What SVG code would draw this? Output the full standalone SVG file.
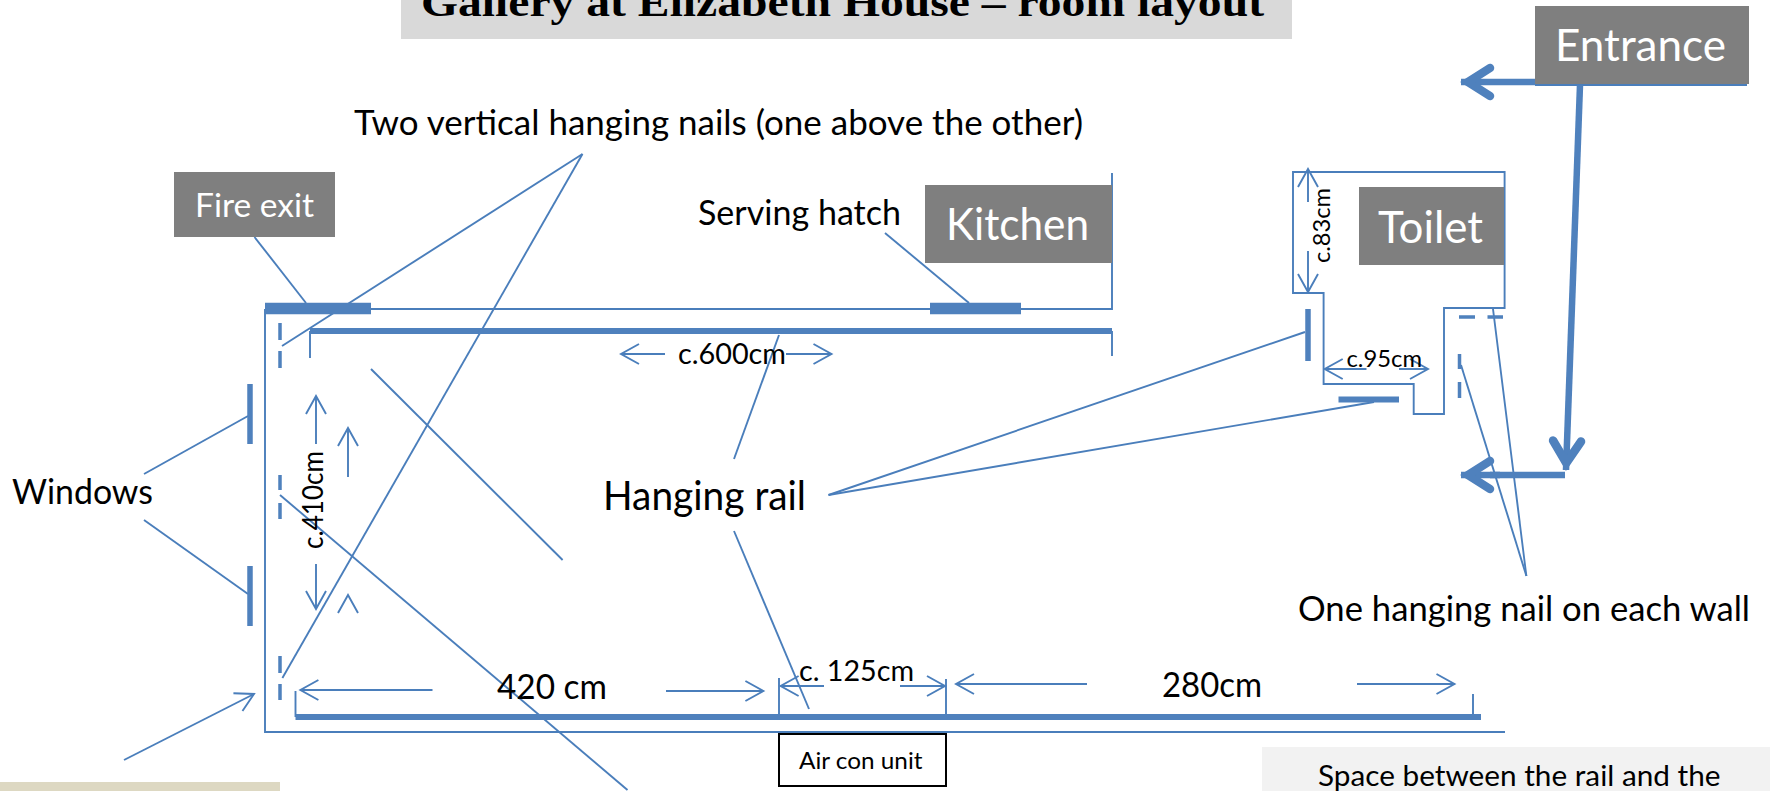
<svg xmlns="http://www.w3.org/2000/svg" width="1770" height="791" viewBox="0 0 1770 791">
<style>
text{font-family:"Lato","Carlito","Open Sans",sans-serif;fill:#000}
.w{fill:#fff}
.box{fill:#7f7f7f}
.title{font-family:"Liberation Serif","Times New Roman",serif;font-weight:bold}
.l{stroke:#4a7ebb;stroke-width:1.9;fill:none}
.rail{stroke:#4f81bd;stroke-width:6;fill:none}
.nail{stroke:#4f81bd;stroke-width:3.5;fill:none}
.fat{stroke:#4f81bd;stroke-width:11.5;fill:none}
.win{stroke:#4f81bd;stroke-width:5.5;fill:none}
.thick{stroke:#4f81bd;stroke-width:6.5;fill:none}
</style>
<defs>
<marker id="a" markerUnits="userSpaceOnUse" markerWidth="24" markerHeight="26" refX="20" refY="12" orient="auto" overflow="visible"><path d="M2,2 L20,12 L2,22" fill="none" stroke="#4a7ebb" stroke-width="1.9"/></marker>
<marker id="b" markerUnits="userSpaceOnUse" markerWidth="44" markerHeight="44" refX="40" refY="20" orient="auto" overflow="visible"><path d="M11,6 L33,20 L11,34" fill="none" stroke="#4f81bd" stroke-width="8.5" stroke-linecap="round" stroke-linejoin="miter"/></marker>
</defs>

<g id="title"><rect x="401" y="-20" width="891" height="59" fill="#d9d9d9"/><text class="title" x="421" y="16" font-size="40" textLength="843" lengthAdjust="spacingAndGlyphs">Gallery at Elizabeth House – room layout</text></g>

<g id="walls">
<path class="l" d="M265,309 H1112 V173"/>
<path class="l" d="M265,309 V732 H1505"/>
<path class="l" d="M1293,172 H1504.6 V308 H1444 V414 H1413.7 V384 H1323.6 V293 H1293 Z"/>
</g>

<g id="connectors">
<path class="l" d="M254.5,237 L306,303"/>
<path class="l" d="M582.5,154 L282,346"/>
<path class="l" d="M582.5,154 L282.4,678"/>
<path class="l" d="M371,369 L562.6,560"/>
<path class="l" d="M280,495 L627.5,790"/>
<path class="l" d="M144,474 L248,416"/>
<path class="l" d="M144,520 L248,594"/>
<path class="l" d="M885,233 L969,303"/>
<path class="l" d="M734,459 L779,335"/>
<path class="l" d="M734,531 L809,709"/>
<path class="l" d="M828.5,495 L1305,332"/>
<path class="l" d="M828.5,495 L1374,402"/>
<path class="l" d="M1493,309 L1526.4,576"/>
<path class="l" d="M1461,365 L1526.4,576"/>
<path class="l" d="M310,331 V358"/>
<path class="l" d="M1112,331 V356"/>
<path class="l" d="M295.5,691 V717"/>
<path class="l" d="M779,678 V717"/>
<path class="l" d="M946,679 V717"/>
<path class="l" d="M1473,694 V717"/>
<path class="l" d="M1535,85 H1747"/>
<path class="l" marker-end="url(#a)" d="M665,354 H621"/>
<path class="l" marker-end="url(#a)" d="M786,354 H831.5"/>
<path class="l" marker-end="url(#a)" d="M316,444 V396"/>
<path class="l" marker-end="url(#a)" d="M316,564 V609"/>
<path class="l" marker-end="url(#a)" d="M348,477 V428"/>
<path class="l" d="M338,613 L348,595 L358,613"/>
<path class="l" marker-end="url(#a)" d="M124,760 L254,694"/>
<path class="l" marker-end="url(#a)" d="M432.5,690 H300.4"/>
<path class="l" marker-end="url(#a)" d="M666,691 H763.4"/>
<path class="l" marker-end="url(#a)" d="M824,686 H780.6"/>
<path class="l" marker-end="url(#a)" d="M900,686 H945"/>
<path class="l" marker-end="url(#a)" d="M1087,684 H956"/>
<path class="l" marker-end="url(#a)" d="M1357,684 H1454.5"/>
<path class="l" marker-end="url(#a)" d="M1308,202 V169"/>
<path class="l" marker-end="url(#a)" d="M1308,251 V292"/>
<path class="l" marker-end="url(#a)" d="M1366.5,369 H1324.7"/>
<path class="l" marker-end="url(#a)" d="M1399,369 H1428"/>
<path class="thick" marker-end="url(#b)" d="M1535,82 H1461"/>
<path class="thick" marker-end="url(#b)" d="M1580,85 L1566,470"/>
<path class="thick" stroke-width="7" d="M1565,475 H1490"/>
<path class="thick" marker-end="url(#b)" d="M1500,475 H1461"/>
</g>

<g id="rails">
<path class="rail" d="M310,331 H1112"/>
<path class="rail" d="M295.5,717 H1481"/>
<path class="win" d="M1308,309 V361"/>
<path class="rail" d="M1338.5,399.500 H1399"/>
</g>
<g id="fire-door"><path class="fat" d="M265,308.500 H371"/></g>
<g id="serving-hatch"><path class="fat" d="M930,308.500 H1021"/></g>
<g id="window-1"><path class="win" d="M250,384 V444"/></g>
<g id="window-2"><path class="win" d="M250,566 V626"/></g>
<g id="nails">
<path class="nail" d="M280,323 V340 M280,351 V368 M280,475 V490 M280,503 V519 M280,656 V673 M280,684 V700"/>
<path class="nail" d="M1459,317 H1475 M1487.500,317 H1503 M1459.500,354 V369 M1459.500,382 V398"/>
</g>

<g id="fire-exit"><rect class="box" x="174" y="172" width="161" height="65"/><text class="w" x="195" y="217" font-size="32" textLength="119" lengthAdjust="spacingAndGlyphs">Fire exit</text></g>
<g id="kitchen"><rect class="box" x="925" y="185" width="187" height="78"/><text class="w" x="946" y="240" font-size="44" textLength="143" lengthAdjust="spacingAndGlyphs">Kitchen</text></g>
<g id="toilet"><rect class="box" x="1359" y="187" width="145" height="78"/><text class="w" x="1378" y="243" font-size="44" textLength="105" lengthAdjust="spacingAndGlyphs">Toilet</text></g>
<g id="entrance"><rect class="box" x="1535" y="6" width="214" height="78"/><text class="w" x="1555" y="61" font-size="44" textLength="171" lengthAdjust="spacingAndGlyphs">Entrance</text></g>
<g id="air-con"><rect x="779" y="734" width="167" height="52" fill="#fff" stroke="#000" stroke-width="2"/><text x="799" y="769" font-size="23" textLength="123.500" lengthAdjust="spacingAndGlyphs">Air con unit</text></g>

<g id="labels">
<text x="354" y="135" font-size="35" textLength="729" lengthAdjust="spacingAndGlyphs">Two vertical hanging nails (one above the other)</text>
<text x="698" y="225" font-size="35" textLength="203" lengthAdjust="spacingAndGlyphs">Serving hatch</text>
<text x="678" y="364" font-size="29" textLength="108" lengthAdjust="spacingAndGlyphs">c.600cm</text>
<text x="12" y="504" font-size="35" textLength="141" lengthAdjust="spacingAndGlyphs">Windows</text>
<text x="603" y="510" font-size="40" textLength="203" lengthAdjust="spacingAndGlyphs">Hanging rail</text>
<text x="497" y="699" font-size="35" textLength="110" lengthAdjust="spacingAndGlyphs">420 cm</text>
<text x="799" y="681" font-size="29" textLength="115" lengthAdjust="spacingAndGlyphs">c. 125cm</text>
<text x="1162" y="697" font-size="35" textLength="100" lengthAdjust="spacingAndGlyphs">280cm</text>
<text x="1346.500" y="367" font-size="23" textLength="75.500" lengthAdjust="spacingAndGlyphs">c.95cm</text>
<text transform="translate(323,549) rotate(-90)" font-size="29" textLength="98" lengthAdjust="spacingAndGlyphs">c.410cm</text>
<text transform="translate(1330,263) rotate(-90)" font-size="23" textLength="75" lengthAdjust="spacingAndGlyphs">c.83cm</text>
<text x="1298" y="621" font-size="35" textLength="452" lengthAdjust="spacingAndGlyphs">One hanging nail on each wall</text>
</g>

<g id="note-left"><rect x="0" y="782" width="280" height="12" fill="#ddd8c2"/></g>
<g id="note-right"><rect x="1262" y="747" width="510" height="46" fill="#f2f2f2"/><text x="1318" y="786" font-size="29" textLength="402.500" lengthAdjust="spacingAndGlyphs">Space between the rail and the</text></g>
</svg>
